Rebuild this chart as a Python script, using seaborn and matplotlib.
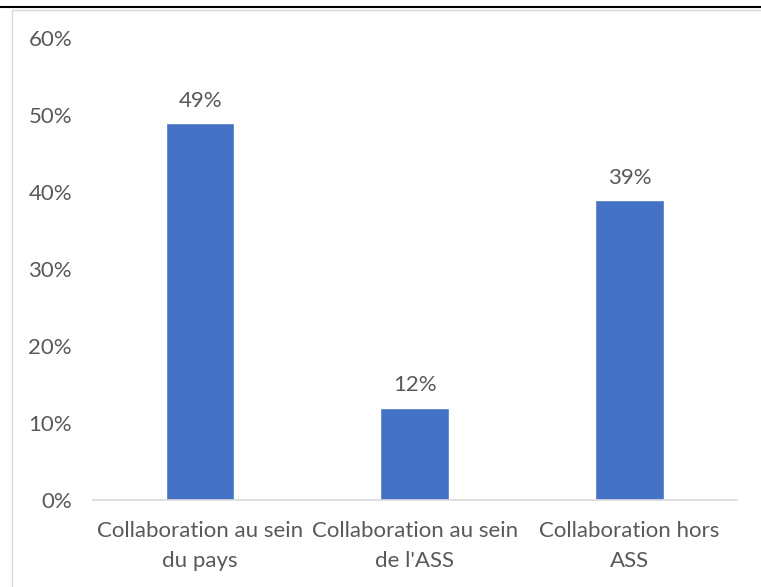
import matplotlib
matplotlib.use("Agg")
import matplotlib.pyplot as plt
import seaborn as sns
import pandas as pd
from matplotlib.lines import Line2D

categories = ["Collaboration au sein\ndu pays", "Collaboration au sein\nde l'ASS", "Collaboration hors\nASS"]
values = [0.49, 0.12, 0.39]
value_labels = ["49%", "12%", "39%"]
yticks = [0, 0.1, 0.2, 0.3, 0.4, 0.5, 0.6]
ytick_labels = ["0%", "10%", "20%", "30%", "40%", "50%", "60%"]

df = pd.DataFrame({"cat": categories, "val": values})

sns.set_theme(style="white")
plt.rcParams["font.family"] = ["Lato", "DejaVu Sans"]
txt = "#595959"
fs = 16

fig = plt.figure(figsize=(7.61, 5.87), dpi=100)
ax = fig.add_axes([0.122, 0.148, 0.846, 0.787])
sns.barplot(data=df, x="cat", y="val", color="#4472C4", width=0.32, saturation=1, ax=ax)

for i, (v, lab) in enumerate(zip(values, value_labels)):
    ax.text(i, v + 0.016, lab, ha="center", va="bottom", fontsize=fs, color=txt)

ax.set_xlim(-0.5, 2.5)
ax.set_ylim(0, 0.6)
ax.set_yticks(yticks)
ax.set_yticklabels(ytick_labels, fontsize=fs, color=txt)
ax.tick_params(axis="x", labelsize=fs, labelcolor=txt, length=0, pad=15)
for t in ax.get_xticklabels():
    t.set_linespacing(1.6)
ax.tick_params(axis="y", length=0, pad=15)
ax.set_xlabel("")
ax.set_ylabel("")
for s in ["top", "right", "left"]:
    ax.spines[s].set_visible(False)
ax.spines["bottom"].set_color("#D9D9D9")
ax.spines["bottom"].set_linewidth(1.2)

# outer frame lines
fig.add_artist(Line2D([0, 1], [1 - 7 / 587, 1 - 7 / 587], color="black", lw=1.5, transform=fig.transFigure))
fig.add_artist(Line2D([12 / 761, 1], [1 - 10 / 587, 1 - 10 / 587], color="#D9D9D9", lw=1, transform=fig.transFigure))
fig.add_artist(Line2D([12 / 761, 12 / 761], [0, 1 - 10 / 587], color="#D9D9D9", lw=1, transform=fig.transFigure))

fig.savefig("out.png", dpi=100)
